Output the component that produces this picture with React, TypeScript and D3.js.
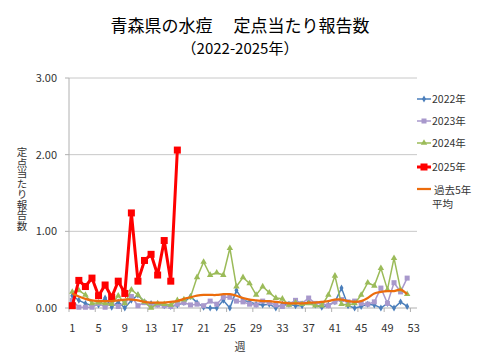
import React from "react";
import * as d3 from "d3";

const weeks: number[] = Array.from({ length: 53 }, (_, i) => i + 1);
const xTickLabels: number[] = [1, 5, 9, 13, 17, 21, 25, 29, 33, 37, 41, 45, 49, 53];
const yTicks: number[] = [0, 1, 2, 3];

const s2022: number[] = [0.16, 0.10, 0.06, 0.03, 0.04, 0.13, 0.01, 0.08, 0.0, 0.10, 0.17, 0.08, 0.06, 0.05, 0.03, 0.02, 0.04, 0.07, 0.15, 0.07, 0.01, 0.0, 0.0, 0.10, 0.0, 0.23, 0.10, 0.08, 0.05, 0.04, 0.05, 0.0, 0.05, 0.05, 0.03, 0.03, 0.08, 0.04, 0.01, 0.04, 0.08, 0.26, 0.03, 0.0, 0.02, 0.05, 0.04, 0.0, 0.06, 0.0, 0.08, 0.02];
const s2023: number[] = [0.10, 0.01, 0.01, 0.01, 0.06, 0.01, 0.06, 0.02, 0.07, 0.15, 0.03, 0.07, 0.02, 0.04, 0.03, 0.02, 0.05, 0.07, 0.04, 0.05, 0.03, 0.09, 0.05, 0.14, 0.14, 0.09, 0.08, 0.05, 0.04, 0.09, 0.07, 0.04, 0.02, 0.05, 0.10, 0.06, 0.13, 0.06, 0.06, 0.03, 0.08, 0.11, 0.08, 0.09, 0.06, 0.05, 0.08, 0.26, 0.06, 0.33, 0.21, 0.39];
const s2024: number[] = [0.21, 0.23, 0.17, 0.06, 0.07, 0.06, 0.05, 0.16, 0.06, 0.24, 0.17, 0.08, 0.0, 0.06, 0.05, 0.04, 0.10, 0.11, 0.14, 0.40, 0.60, 0.43, 0.46, 0.43, 0.78, 0.28, 0.40, 0.32, 0.17, 0.28, 0.20, 0.13, 0.12, 0.04, 0.07, 0.05, 0.06, 0.03, 0.03, 0.17, 0.42, 0.05, 0.04, 0.06, 0.17, 0.33, 0.29, 0.52, 0.24, 0.65, 0.24, 0.18];
const s2025: number[] = [0.03, 0.36, 0.28, 0.39, 0.16, 0.30, 0.14, 0.35, 0.19, 1.24, 0.35, 0.62, 0.70, 0.43, 0.88, 0.35, 2.06];
const sAvg: number[] = [0.19, 0.15, 0.12, 0.10, 0.09, 0.09, 0.09, 0.10, 0.11, 0.11, 0.10, 0.08, 0.07, 0.07, 0.07, 0.08, 0.09, 0.12, 0.14, 0.16, 0.17, 0.17, 0.17, 0.18, 0.18, 0.16, 0.13, 0.11, 0.10, 0.09, 0.09, 0.08, 0.07, 0.06, 0.06, 0.06, 0.07, 0.07, 0.08, 0.09, 0.11, 0.11, 0.09, 0.08, 0.09, 0.13, 0.19, 0.21, 0.22, 0.22, 0.24, 0.18];

const FONT = "'Noto Sans CJK JP', 'Noto Sans', sans-serif";

const margin = { left: 69, right: 417, top: 78, bottom: 308 };

export default function App() {
  const x = d3.scaleBand<number>().domain(weeks).range([margin.left, margin.right]).padding(0);
  const cx = (w: number) => (x(w) as number) + x.bandwidth() / 2;
  const y = d3.scaleLinear().domain([0, 3]).range([margin.bottom, margin.top]);

  const line = d3.line<number>().x((_, i) => cx(i + 1)).y((d) => y(d));
  const smooth = d3.line<number>().x((_, i) => cx(i + 1)).y((d) => y(d)).curve(d3.curveCatmullRom.alpha(0.5));

  const diamond = d3.symbol().type(d3.symbolDiamond).size(14)() as string;
  const tri = d3.symbol().type(d3.symbolTriangle).size(18)() as string;

  const legend = [
    { label: "2022年", color: "#4a7ebb", marker: "diamond", y: 99 },
    { label: "2023年", color: "#a898cc", marker: "square", y: 121 },
    { label: "2024年", color: "#9bbb59", marker: "triangle", y: 143 },
    { label: "2025年", color: "#ff0000", marker: "bigsquare", y: 167 },
  ];

  const xTickMarks = d3.range(0, 54, 4).map((k) => margin.left + k * x.bandwidth());

  return (
    <svg width={480} height={360} style={{ position: "absolute", left: 0, top: 0, background: "#fff" }} fontFamily={FONT}>
      {/* Title */}
      <text x={240} y={32} textAnchor="middle" fontSize={17} fill="#000" style={{ whiteSpace: "pre" }}>
        {"青森県の水痘　 定点当たり報告数"}
      </text>
      <text x={240} y={54} textAnchor="middle" fontSize={15} fill="#000">
        （2022-2025年）
      </text>

      {/* Gridlines */}
      {yTicks.filter((t) => t > 0).map((t) => (
        <line key={t} x1={margin.left} x2={margin.right} y1={y(t)} y2={y(t)} stroke="#c8c8c8" strokeWidth={1} />
      ))}
      {/* Axes */}
      <line x1={margin.left} x2={margin.left} y1={margin.top} y2={margin.bottom} stroke="#b0b0b0" />
      <line x1={margin.left} x2={margin.right} y1={margin.bottom} y2={margin.bottom} stroke="#b0b0b0" />
      {yTicks.map((t) => (
        <g key={t}>
          <line x1={margin.left - 4} x2={margin.left} y1={y(t)} y2={y(t)} stroke="#b0b0b0" />
          <text x={57} y={y(t) + 4} textAnchor="end" fontSize={11} fill="#333">
            {d3.format(".2f")(t)}
          </text>
        </g>
      ))}
      {xTickMarks.map((xx, i) => (
        <line key={i} x1={xx} x2={xx} y1={margin.bottom} y2={margin.bottom + 4} stroke="#b0b0b0" />
      ))}
      {xTickLabels.map((w) => (
        <text key={w} x={cx(w)} y={332} textAnchor="middle" fontSize={11} fill="#333">
          {w}
        </text>
      ))}
      <text x={240} y={351} textAnchor="middle" fontSize={11} fill="#333">週</text>
      <text x={22} y={147} fontSize={10.5} fill="#333" style={{ writingMode: "vertical-rl", textOrientation: "upright" } as any}>
        定点当たり報告数
      </text>

      {/* 2022 */}
      <path d={line(s2022) as string} fill="none" stroke="#4a7ebb" strokeWidth={1.5} />
      {s2022.map((v, i) => (
        <path key={i} d={diamond} transform={`translate(${cx(i + 1)},${y(v)})`} fill="#4a7ebb" />
      ))}
      {/* 2023 */}
      <path d={line(s2023) as string} fill="none" stroke="#a898cc" strokeWidth={1.5} />
      {s2023.map((v, i) => (
        <rect key={i} x={cx(i + 1) - 2.5} y={y(v) - 2.5} width={5} height={5} fill="#a898cc" />
      ))}
      {/* 2024 */}
      <path d={line(s2024) as string} fill="none" stroke="#9bbb59" strokeWidth={1.5} />
      {s2024.map((v, i) => (
        <path key={i} d={tri} transform={`translate(${cx(i + 1)},${y(v)})`} fill="#9bbb59" />
      ))}
      {/* 2025 */}
      <path d={line(s2025) as string} fill="none" stroke="#ff0000" strokeWidth={3} />
      {s2025.map((v, i) => (
        <rect key={i} x={cx(i + 1) - 3.5} y={y(v) - 3.5} width={7} height={7} fill="#ff0000" />
      ))}
      {/* Avg */}
      <path d={smooth(sAvg) as string} fill="none" stroke="#ec6c0c" strokeWidth={2.25} />

      {/* Legend */}
      {legend.map((l) => (
        <g key={l.label}>
          <line x1={417} x2={431} y1={l.y} y2={l.y} stroke={l.color} strokeWidth={l.marker === "bigsquare" ? 3 : 1.5} />
          {l.marker === "diamond" && <path d={diamond} transform={`translate(424,${l.y})`} fill={l.color} />}
          {l.marker === "square" && <rect x={421.5} y={l.y - 2.5} width={5} height={5} fill={l.color} />}
          {l.marker === "triangle" && <path d={tri} transform={`translate(424,${l.y})`} fill={l.color} />}
          {l.marker === "bigsquare" && <rect x={420.5} y={l.y - 3.5} width={7} height={7} fill={l.color} />}
          <text x={432} y={l.y + 4} fontSize={10.5} fill="#333">{l.label}</text>
        </g>
      ))}
      <line x1={417} x2={431} y1={189} y2={189} stroke="#ec6c0c" strokeWidth={2.25} />
      <text x={434} y={194} fontSize={10.5} fill="#333">過去5年</text>
      <text x={432} y={208} fontSize={10.5} fill="#333">平均</text>
    </svg>
  );
}
